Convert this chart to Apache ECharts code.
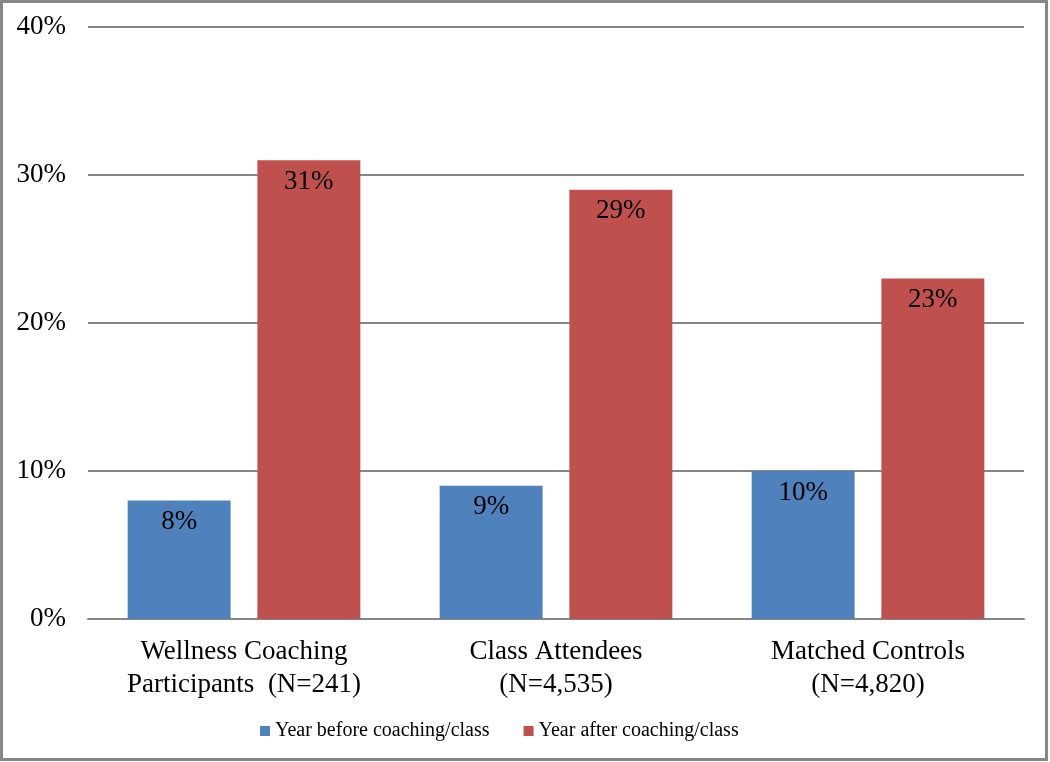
<!DOCTYPE html>
<html><head><meta charset="utf-8">
<script src="https://cdn.jsdelivr.net/npm/echarts@6/dist/echarts.min.js"></script>
<style>html,body{margin:0;padding:0;background:#fff}#c{width:1050px;height:762px}</style>
</head><body><div id="c"></div>
<script>
const categories = ['Wellness Coaching\nParticipants  (N=241)', 'Class Attendees\n(N=4,535)', 'Matched Controls\n(N=4,820)'];
const seriesNames = ['Year before coaching/class', 'Year after coaching/class'];
const beforeValues = [8, 9, 10];
const afterValues = [31, 29, 23];
const yTicks = [0, 10, 20, 30, 40];

const font = 'Liberation Serif';
const chart = echarts.init(document.getElementById('c'), null, {renderer: 'canvas'});
const lbl = {show: true, position: 'insideTop', distance: 8, formatter: '{c}%', color: '#000', fontFamily: font, fontSize: 27};
chart.setOption({
  animation: false,
  textStyle: {fontFamily: font},
  graphic: [{type: 'rect', shape: {x: 1.5, y: 1.5, width: 1045, height: 758}, style: {fill: 'none', stroke: '#878787', lineWidth: 3}, silent: true}],
  grid: {left: 88, right: 26, top: 27, bottom: 143, containLabel: false},
  legend: {
    bottom: 16, left: 255, itemWidth: 10, itemHeight: 10, itemGap: 34,
    icon: 'rect',
    textStyle: {fontFamily: font, fontSize: 20, color: '#000'},
    data: seriesNames
  },
  xAxis: {
    type: 'category', data: categories,
    axisLine: {show: true, lineStyle: {color: '#868686', width: 2}},
    axisTick: {show: false},
    axisLabel: {color: '#000', fontFamily: font, fontSize: 27, lineHeight: 33, margin: 16, interval: 0}
  },
  yAxis: {
    type: 'value', min: yTicks[0], max: yTicks[yTicks.length - 1], interval: 10,
    axisLine: {show: false}, axisTick: {show: false},
    splitLine: {show: true, lineStyle: {color: '#868686', width: 2}},
    axisLabel: {color: '#000', fontFamily: font, fontSize: 27, margin: 22, formatter: '{value}%'}
  },
  series: [
    {name: seriesNames[0], type: 'bar', data: beforeValues, barWidth: '33%', barGap: '26%', itemStyle: {color: '#4F81BD'}, label: lbl},
    {name: seriesNames[1], type: 'bar', data: afterValues, barWidth: '33%', barGap: '26%', itemStyle: {color: '#C0504D'}, label: lbl}
  ]
});
</script></body></html>
